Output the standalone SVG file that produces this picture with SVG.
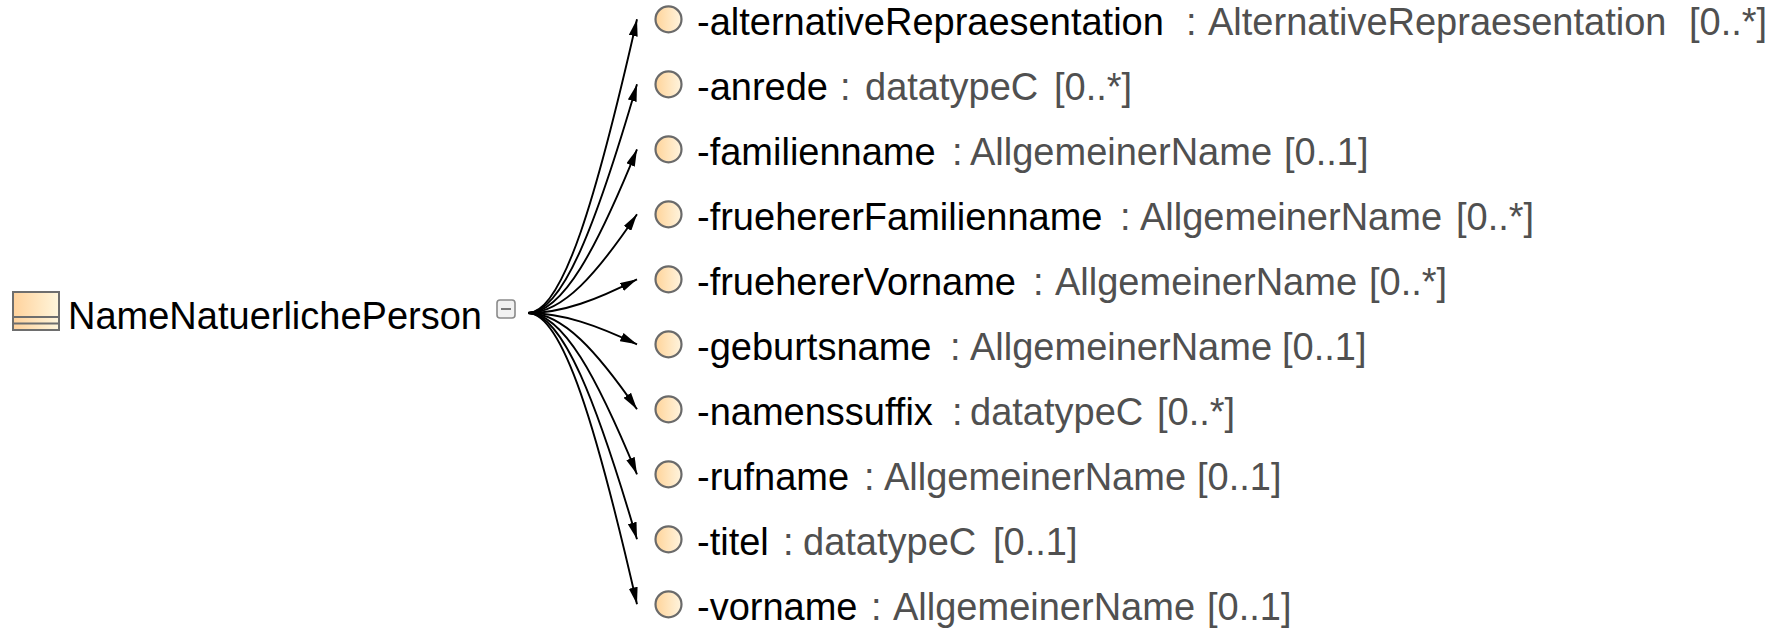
<svg xmlns="http://www.w3.org/2000/svg" width="1779" height="629" viewBox="0 0 1779 629">
<defs>
<style>
.t{font-family:"Liberation Sans",Arial,sans-serif;font-size:38px}
.n{fill:#000}
.ty{fill:#505050}
.c{fill:url(#cg);stroke:#6a6a6a;stroke-width:2.2}
.e{fill:none;stroke:#000;stroke-width:1.9;marker-end:url(#ah)}
</style>
<linearGradient id="cg" x1="0" y1="0" x2="1" y2="0">
<stop offset="0" stop-color="#FFD49A"/>
<stop offset="1" stop-color="#FFF4DE"/>
</linearGradient>
<linearGradient id="ig" x1="0" y1="0" x2="1" y2="0">
<stop offset="0" stop-color="#FFD29C"/>
<stop offset="1" stop-color="#FFF6DC"/>
</linearGradient>
<marker id="ah" markerUnits="userSpaceOnUse" markerWidth="17" markerHeight="9" viewBox="0 0 17 9" refX="17" refY="4.5" orient="auto">
<path d="M0,0 L17,4.5 L0,9 z" fill="#000"/>
</marker>
</defs>
<rect width="1779" height="629" fill="#fff"/>

<g id="NameNatuerlichePerson">
<rect x="13" y="292" width="46" height="38" fill="url(#ig)" stroke="#6e6e6e" stroke-width="2"/>
<line x1="13" y1="317" x2="59" y2="317" stroke="#6e6e6e" stroke-width="2"/>
<line x1="13" y1="323.5" x2="59" y2="323.5" stroke="#6e6e6e" stroke-width="2"/>
<text class="t n" x="68" y="329">NameNatuerlichePerson</text>
<rect x="497" y="300" width="18" height="18" rx="3" fill="#f2f2f2" stroke="#8a8a8a" stroke-width="1.6"/>
<line x1="501" y1="309" x2="511" y2="309" stroke="#7a7a7a" stroke-width="2"/>
</g>

<g id="connectors">
<path class="e" d="M528,313 C563,313 597,195.5 637,19.3"/>
<path class="e" d="M528,313 C563,313 597,221.5 637,84.3"/>
<path class="e" d="M528,313 C563,313 597,247.5 637,149.3"/>
<path class="e" d="M528,313 C563,313 597,273.5 637,214.3"/>
<path class="e" d="M528,313 C563,313 597,299.5 637,279.3"/>
<path class="e" d="M528,313 C563,313 597,325.5 637,344.3"/>
<path class="e" d="M528,313 C563,313 597,351.5 637,409.3"/>
<path class="e" d="M528,313 C563,313 597,377.5 637,474.3"/>
<path class="e" d="M528,313 C563,313 597,403.5 637,539.3"/>
<path class="e" d="M528,313 C563,313 597,429.5 637,604.3"/>
</g>

<g id="alternativeRepraesentation">
<circle class="c" cx="668.5" cy="19.3" r="13"/>
<text class="t" y="34.8"><tspan class="n" x="697">-alternativeRepraesentation</tspan><tspan class="ty" x="1186">:</tspan><tspan class="ty" x="1208">AlternativeRepraesentation</tspan><tspan class="ty" x="1689">[0..*]</tspan></text>
</g>
<g id="anrede">
<circle class="c" cx="668.5" cy="84.3" r="13"/>
<text class="t" y="99.8"><tspan class="n" x="697">-anrede</tspan><tspan class="ty" x="840">:</tspan><tspan class="ty" x="865">datatypeC</tspan><tspan class="ty" x="1054">[0..*]</tspan></text>
</g>
<g id="familienname">
<circle class="c" cx="668.5" cy="149.3" r="13"/>
<text class="t" y="164.8"><tspan class="n" x="697">-familienname</tspan><tspan class="ty" x="952">:</tspan><tspan class="ty" x="970">AllgemeinerName</tspan><tspan class="ty" x="1284">[0..1]</tspan></text>
</g>
<g id="fruehererFamilienname">
<circle class="c" cx="668.5" cy="214.3" r="13"/>
<text class="t" y="229.8"><tspan class="n" x="697">-fruehererFamilienname</tspan><tspan class="ty" x="1120">:</tspan><tspan class="ty" x="1140">AllgemeinerName</tspan><tspan class="ty" x="1456">[0..*]</tspan></text>
</g>
<g id="fruehererVorname">
<circle class="c" cx="668.5" cy="279.3" r="13"/>
<text class="t" y="294.8"><tspan class="n" x="697">-fruehererVorname</tspan><tspan class="ty" x="1033">:</tspan><tspan class="ty" x="1055">AllgemeinerName</tspan><tspan class="ty" x="1369">[0..*]</tspan></text>
</g>
<g id="geburtsname">
<circle class="c" cx="668.5" cy="344.3" r="13"/>
<text class="t" y="359.8"><tspan class="n" x="697">-geburtsname</tspan><tspan class="ty" x="950">:</tspan><tspan class="ty" x="970">AllgemeinerName</tspan><tspan class="ty" x="1282">[0..1]</tspan></text>
</g>
<g id="namenssuffix">
<circle class="c" cx="668.5" cy="409.3" r="13"/>
<text class="t" y="424.8"><tspan class="n" x="697">-namenssuffix</tspan><tspan class="ty" x="952">:</tspan><tspan class="ty" x="970">datatypeC</tspan><tspan class="ty" x="1157">[0..*]</tspan></text>
</g>
<g id="rufname">
<circle class="c" cx="668.5" cy="474.3" r="13"/>
<text class="t" y="489.8"><tspan class="n" x="697">-rufname</tspan><tspan class="ty" x="864">:</tspan><tspan class="ty" x="884">AllgemeinerName</tspan><tspan class="ty" x="1197">[0..1]</tspan></text>
</g>
<g id="titel">
<circle class="c" cx="668.5" cy="539.3" r="13"/>
<text class="t" y="554.8"><tspan class="n" x="697">-titel</tspan><tspan class="ty" x="783">:</tspan><tspan class="ty" x="803">datatypeC</tspan><tspan class="ty" x="993">[0..1]</tspan></text>
</g>
<g id="vorname">
<circle class="c" cx="668.5" cy="604.3" r="13"/>
<text class="t" y="619.8"><tspan class="n" x="697">-vorname</tspan><tspan class="ty" x="871">:</tspan><tspan class="ty" x="893">AllgemeinerName</tspan><tspan class="ty" x="1207">[0..1]</tspan></text>
</g>
</svg>
